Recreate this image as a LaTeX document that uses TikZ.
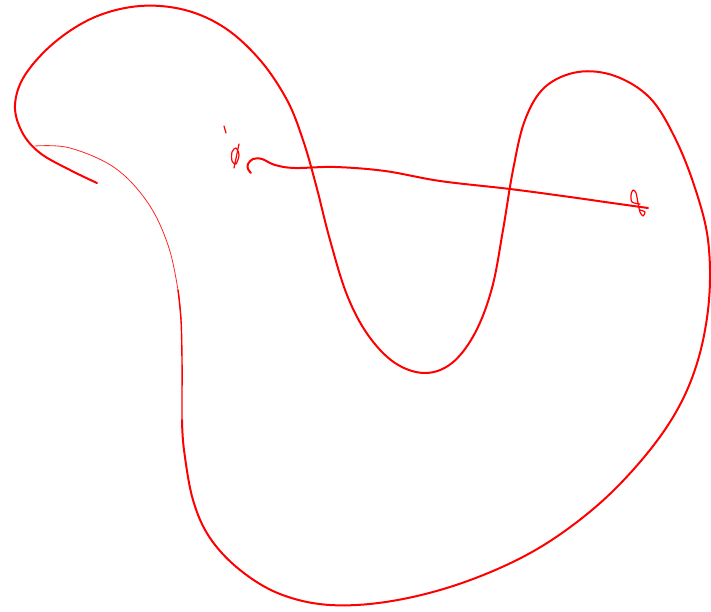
\documentclass[tikz,border=0pt]{standalone}
\begin{document}
\begin{tikzpicture}[x=1pt,y=-1pt,
  ink/.style={draw=red,line width=2pt,line cap=round,line join=round},
  midink/.style={draw=red,line width=1.4pt,line cap=round},
  thinink/.style={draw=red!85,line width=0.8pt,line cap=round},
  scrib/.style={draw=red,line width=1.2pt,line cap=round,line join=round}]
\useasboundingbox (0,0) rectangle (711,612);
% main outline
\draw[ink] plot[smooth,tension=0.6] coordinates {(97,183) (70,170) (40,153) (22,132) (15,105) (25,75) (55,42) (95,17) (140,6) (185,10) (225,28) (260,60) (287,100) (303,140) (316,185) (330,240) (347,295) (368,335) (395,363) (425,373) (452,363) (475,333) (492,288) (503,230) (513,170) (525,120) (545,87) (578,72) (615,76) (650,98) (675,138) (695,188) (708,240) (709,300) (698,360) (676,412) (640,462) (592,510) (532,552) (462,583) (392,601) (330,605) (280,594) (240,570) (210,538) (193,500) (184,450) (182,420)};
% thin stroke, thickening downwards
\draw[thinink] plot[smooth,tension=0.6] coordinates {(35,146) (70,148) (115,168) (148,203) (168,245) (178,290) (181,320)};
\draw[midink] plot[smooth,tension=0.6] coordinates {(178,290) (181,320) (182,360) (182,400) (182,425)};
% horizontal stroke with hook
\draw[ink] plot[smooth,tension=0.6] coordinates {(251,173) (248,169) (248,164) (253,159) (262,159) (275,165) (295,168) (335,167) (385,171) (440,181) (510,189) (570,197) (612,203) (648,208)};
% marks
\draw[scrib] (224,126) -- (226,133);
\draw[scrib] plot[smooth cycle] coordinates {(236,148) (239,155) (236,164) (232,161) (232,152)};
\draw[scrib] (239,144) -- (234,168);
\draw[scrib] plot[smooth] coordinates {(640,204) (632,202) (631,195) (633,190) (636,193) (638,203) (640,212) (643,216) (645,212) (640,210)};
\end{tikzpicture}
\end{document}
